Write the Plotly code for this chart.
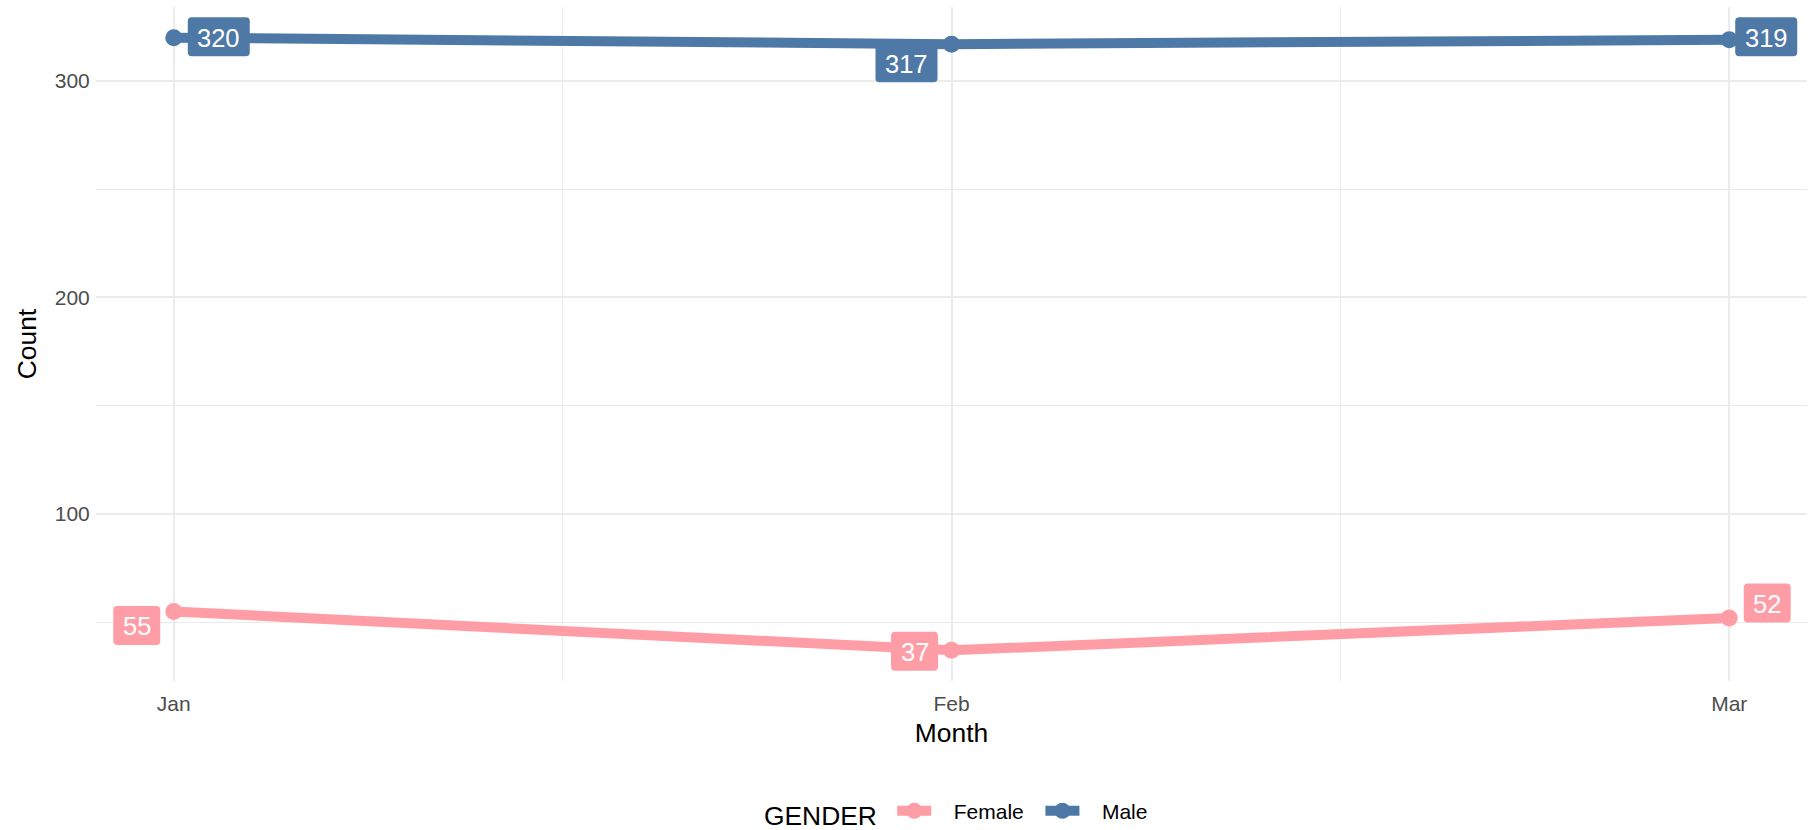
import plotly.graph_objects as go

# ---- data ----
months = ["Jan", "Feb", "Mar"]
month_pos = [1, 2, 3]
female_counts = [55, 37, 52]
male_counts = [320, 317, 319]
y_ticks = [100, 200, 300]

# ---- style ----
FONT = "Liberation Sans, Arial, sans-serif"
C_FEMALE = "#FF9DA7"
C_MALE = "#4E79A7"
GRID = "#EBEBEB"
NB = "\u00a0"
# pixel nudges for the value labels (x shift, y shift; positive y = up)
male_nudge = [(45, 1), (-45, -18.6), (37, 3)]
female_nudge = [(-37, -14), (-37, -1), (38, 15)]

fig = go.Figure()
for name, vals, col in [("Female", female_counts, C_FEMALE), ("Male", male_counts, C_MALE)]:
    fig.add_trace(go.Scatter(
        x=month_pos, y=vals, name=NB * 3 + name + NB * 2, mode="lines+markers",
        line=dict(color=col, width=10),
        marker=dict(color=col, size=17),
    ))


def rounded_box(cx, cy, w, h, r):
    l, rt, b, t = cx - w / 2, cx + w / 2, cy - h / 2, cy + h / 2
    return (f"M{l + r},{b} L{rt - r},{b} Q{rt},{b} {rt},{b + r} "
            f"L{rt},{t - r} Q{rt},{t} {rt - r},{t} L{l + r},{t} "
            f"Q{l},{t} {l},{t - r} L{l},{b + r} Q{l},{b} {l + r},{b} Z")


def add_labels(vals, col, nudges):
    for xv, yv, (dx, dy) in zip(month_pos, vals, nudges):
        txt = str(yv)
        w = 62 if len(txt) == 3 else 47
        fig.add_shape(
            type="path", xref="x", yref="y", xsizemode="pixel", ysizemode="pixel",
            xanchor=xv, yanchor=yv, path=rounded_box(dx, dy, w, 39, 4),
            fillcolor=col, line=dict(width=0), layer="above",
        )
        fig.add_annotation(
            x=xv, y=yv, xref="x", yref="y", text=txt, showarrow=False,
            xshift=dx, yshift=dy - 1,
            font=dict(family=FONT, size=25.5, color="white"),
        )


add_labels(male_counts, C_MALE, male_nudge)
add_labels(female_counts, C_FEMALE, female_nudge)

fig.update_layout(
    width=1815, height=830,
    paper_bgcolor="white", plot_bgcolor="white",
    margin=dict(l=96, r=8, t=7, b=149, autoexpand=False),
    font=dict(family=FONT, color="black"),
    showlegend=True,
    legend=dict(
        orientation="h", x=0.507, xanchor="center", y=-0.196, yanchor="middle",
        title=dict(text="GENDER" + NB, font=dict(size=26.4, color="black", family=FONT)),
        font=dict(size=21, color="black", family=FONT),
        itemwidth=34,
    ),
    xaxis=dict(
        range=[0.9, 3.1], tickvals=month_pos, ticktext=months, automargin=False,
        showgrid=True, gridcolor=GRID, gridwidth=2, zeroline=False, showline=False,
        ticks="outside", ticklen=4, tickcolor="rgba(0,0,0,0)",
        tickfont=dict(size=21, color="#4D4D4D", family=FONT),
        title=dict(text="Month", font=dict(size=26.4, color="black", family=FONT), standoff=9),
        minor=dict(tickvals=[1.5, 2.5], showgrid=True, gridcolor=GRID, gridwidth=1, ticks=""),
    ),
    yaxis=dict(
        range=[22.85, 334.15], tickvals=y_ticks, automargin=False,
        showgrid=True, gridcolor=GRID, gridwidth=2, zeroline=False, showline=False,
        ticks="outside", ticklen=1, tickcolor="rgba(0,0,0,0)",
        tickfont=dict(size=21, color="#4D4D4D", family=FONT),
        title=dict(text="Count", font=dict(size=26.4, color="black", family=FONT), standoff=10),
        minor=dict(tickvals=[50, 150, 250], showgrid=True, gridcolor=GRID, gridwidth=1, ticks=""),
    ),
)

fig.write_html("out.html", config={"displayModeBar": False},
               post_script="document.body.style.margin='0px';")
